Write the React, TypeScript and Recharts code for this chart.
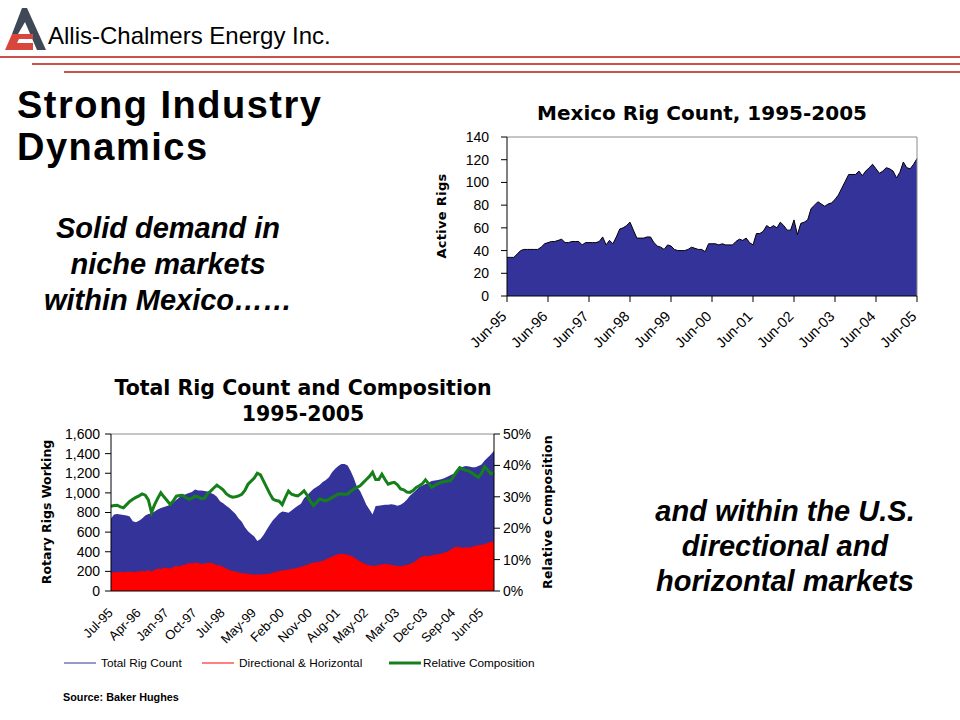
import React from 'react';
import {
  AreaChart,
  ComposedChart,
  Area,
  Line,
  XAxis,
  YAxis,
  ReferenceLine,
} from 'recharts';

const FONT = "'Liberation Sans', Arial, Helvetica, sans-serif";
const WIDE = "'DejaVu Sans', Verdana, sans-serif";

// Mexico active rigs, monthly Jun-95 .. Jun-05
const mexicoRigs = [
  34, 34, 34, 37, 40, 41, 41, 41, 41, 41, 43, 46,
  47, 48, 48, 49, 50, 47, 47, 48, 48, 48, 45, 47,
  47, 47, 47, 48, 52, 45, 49, 46, 52, 59, 60, 62,
  65, 58, 51, 51, 51, 52, 52, 47, 44, 43, 41, 45,
  44, 41, 40, 40, 40, 41, 43, 42, 41, 41, 39, 46,
  46, 46, 45, 46, 45, 45, 45, 48, 50, 49, 51, 47,
  45, 55, 55, 57, 62, 60, 62, 60, 65, 62, 58, 58,
  67, 54, 64, 65, 67, 77, 80, 83, 81, 79, 81, 82,
  85, 89, 95, 101, 107, 107, 107, 110, 106, 110, 113, 116,
  112, 108, 110, 113, 112, 110, 104, 109, 118, 113, 112, 116,
  121,
];
const mexicoTickPos = [0, 12, 24, 36, 48, 60, 72, 84, 96, 108, 120];
const mexicoTickLabels = ['Jun-95', 'Jun-96', 'Jun-97', 'Jun-98', 'Jun-99', 'Jun-00', 'Jun-01', 'Jun-02', 'Jun-03', 'Jun-04', 'Jun-05'];

// US rig counts, monthly from Jul-95
const totalRigs = [
  740, 780, 785, 780, 775, 770, 760, 712, 700, 715, 740, 770,
  785, 790, 810, 830, 845, 855, 865, 880, 905, 930, 955, 975,
  985, 1000, 1010, 1034, 1025, 1025, 1018, 1015, 1000, 985, 960, 915,
  895, 870, 845, 815, 785, 740, 705, 650, 610, 580, 555, 510,
  530, 570, 625, 675, 720, 755, 790, 810, 805, 797, 820, 845,
  870, 890, 945, 975, 1010, 1040, 1060, 1080, 1110, 1130, 1160, 1210,
  1245, 1275, 1295, 1295, 1280, 1220, 1150, 1060, 1020, 950, 880, 830,
  780, 865, 870, 875, 878, 880, 885, 880, 868, 880, 900, 930,
  970, 1000, 1030, 1060, 1075, 1090, 1105, 1120, 1125, 1130, 1138, 1150,
  1165, 1180, 1195, 1225, 1245, 1265, 1275, 1270, 1262, 1260, 1275, 1290,
  1330, 1360, 1390, 1430,
];
const dirHorizRigs = [
  185, 190, 190, 195, 190, 195, 200, 190, 195, 200, 205, 200,
  215, 200, 215, 230, 225, 240, 235, 230, 245, 255, 250, 265,
  270, 285, 280, 290, 285, 275, 280, 285, 290, 275, 265, 260,
  245, 230, 215, 205, 200, 190, 180, 178, 175, 170, 165, 168,
  168, 170, 172, 175, 185, 195, 205, 210, 215, 220, 225, 230,
  240, 245, 260, 265, 280, 290, 290, 300, 305, 320, 340, 350,
  365, 375, 380, 375, 370, 360, 345, 320, 300, 285, 270, 262,
  255, 260, 265, 270, 275, 272, 265, 260, 255, 250, 260, 265,
  275, 290, 305, 340, 350, 360, 355, 365, 370, 375, 380, 390,
  400, 420, 440, 450, 445, 440, 445, 440, 450, 460, 465, 470,
  480, 490, 500, 510,
];
const relComposition = [
  27.0, 27.2, 27.3, 26.8, 26.5, 27.5, 28.5, 29.2, 29.8, 30.3, 30.9, 30.5,
  29.0, 25.0, 27.5, 29.5, 31.3, 30.0, 28.8, 27.6, 28.7, 30.2, 30.4, 30.5,
  29.8, 29.2, 29.6, 30.2, 30.0, 29.4, 29.6, 31.0, 31.8, 32.8, 33.7, 33.0,
  32.2, 31.0, 30.3, 29.9, 30.0, 30.3, 30.8, 32.0, 34.0, 35.0, 36.0, 37.5,
  37.0, 35.0, 33.0, 31.0, 29.3, 28.8, 28.6, 27.5, 29.8, 31.8, 30.8, 30.5,
  30.3, 31.0, 31.9, 30.5, 28.5, 27.2, 28.2, 29.3, 29.0, 28.7, 29.2, 29.8,
  30.3, 30.9, 30.9, 30.8, 30.9, 31.8, 32.5, 33.0, 33.5, 34.5, 35.5, 36.5,
  37.8, 35.5, 35.5, 37.2, 35.5, 34.0, 34.4, 34.6, 33.8, 32.5, 32.2, 31.5,
  31.4, 32.0, 33.0, 33.5, 34.2, 35.4, 34.2, 33.0, 33.6, 34.2, 34.6, 34.8,
  35.0, 35.1, 36.5, 38.0, 39.3, 38.8, 38.4, 38.2, 37.5, 36.8, 36.2, 37.5,
  39.6, 38.5, 37.3, 37.8,
];
const usTickPos = [0, 9, 18, 27, 36, 46, 55, 64, 73, 82, 92, 101, 110, 119];
const usTickLabels = ['Jul-95', 'Apr-96', 'Jan-97', 'Oct-97', 'Jul-98', 'May-99', 'Feb-00', 'Nov-00', 'Aug-01', 'May-02', 'Mar-03', 'Dec-03', 'Sep-04', 'Jun-05'];

const mexicoData = mexicoRigs.map((v, i) => ({ m: i, rigs: v }));
const usData = totalRigs.map((v, i) => ({
  m: i,
  total: v,
  dir: dirHorizRigs[i],
  comp: relComposition[i],
}));

// rotated tick label, top-right corner of text sits near the tick
function AngledTick(props: any) {
  const { x, y, payload, labels, positions, fontSize, dx = 0, dy = 0 } = props;
  const idx = positions.indexOf(payload.value);
  return (
    <g transform={`translate(${x + dx},${y + dy})`}>
      <text x={0} y={0} dy="0.72em" textAnchor="end" fill="#000" fontSize={fontSize} fontFamily={FONT} transform="rotate(-45)">
        {idx >= 0 ? labels[idx] : ''}
      </text>
    </g>
  );
}

function RotatedLabel({ cx, cy, text, size, spacing = 0 }: any) {
  return (
    <div
      style={{
        position: 'absolute',
        left: cx,
        top: cy,
        transform: 'translate(-50%, -50%) rotate(-90deg)',
        whiteSpace: 'nowrap',
        fontFamily: WIDE,
        fontWeight: 'bold',
        fontSize: size,
        letterSpacing: spacing,
        lineHeight: 1,
      }}
    >
      {text}
    </div>
  );
}

function Logo() {
  return (
    <svg width={50} height={55} style={{ position: 'absolute', left: 0, top: 0 }}>
      <polygon points="22,8 27,8 46,50 37,50 25,22 18,34 12,34" fill="#3f4856" />
      <polygon points="12,34 33,34 33,39 19,39 17,43 33,43 33,50 5,50" fill="#d9463e" />
    </svg>
  );
}

function LegendItem({ x, color, thick, label }: any) {
  return (
    <div style={{ position: 'absolute', left: x, top: 655, height: 16, display: 'flex', alignItems: 'center', fontSize: 11.8, whiteSpace: 'nowrap' }}>
      <svg width={34} height={16}>
        <line x1={0} y1={8} x2={32} y2={8} stroke={color} strokeWidth={thick ? 3 : 1} />
      </svg>
      <span style={{ marginLeft: thick ? 0 : 3 }}>{label}</span>
    </div>
  );
}

export default function App() {
  const lineStyle = (left: number, top: number) => ({
    position: 'absolute' as const,
    left,
    top,
    width: 960 - left,
    height: 1.5,
    background: '#c9524c',
  });

  return (
    <div style={{ position: 'absolute', left: 0, top: 0, width: 960, height: 720, background: '#fff', fontFamily: FONT, color: '#000', overflow: 'hidden' }}>
      {/* header */}
      <Logo />
      <div style={{ position: 'absolute', left: 48, top: 24, fontSize: 24, lineHeight: '24px', whiteSpace: 'nowrap' }}>
        Allis-Chalmers Energy Inc.
      </div>
      <div style={lineStyle(0, 56)} />
      <div style={lineStyle(32, 63)} />
      <div style={lineStyle(64, 71)} />

      {/* slide text */}
      <div style={{ position: 'absolute', left: 17, top: 84, fontSize: 38, lineHeight: '42px', letterSpacing: 1.5, fontWeight: 'bold' }}>
        Strong Industry
        <br />
        Dynamics
      </div>
      <div style={{ position: 'absolute', left: 0, top: 210, width: 336, textAlign: 'center', fontSize: 29, lineHeight: '36px', fontWeight: 'bold', fontStyle: 'italic' }}>
        Solid demand in
        <br />
        niche markets
        <br />
        within Mexico……
      </div>
      <div style={{ position: 'absolute', left: 610, top: 494, width: 350, textAlign: 'center', fontSize: 29, lineHeight: '35px', fontWeight: 'bold', fontStyle: 'italic' }}>
        and within the U.S.
        <br />
        directional and
        <br />
        horizontal markets
      </div>

      {/* Mexico chart */}
      <div style={{ position: 'absolute', left: 502, top: 101, width: 400, textAlign: 'center', fontFamily: WIDE, fontSize: 20, lineHeight: '24px', fontWeight: 'bold', whiteSpace: 'nowrap' }}>
        Mexico Rig Count, 1995-2005
      </div>
      <RotatedLabel cx={441} cy={216} text="Active Rigs" size={13} spacing={0.3} />
      <div style={{ position: 'absolute', left: 420, top: 95 }}>
        <AreaChart width={520} height={280} data={mexicoData} margin={{ top: 42, right: 23, left: 0, bottom: 0 }}>
          <XAxis
            type="number"
            dataKey="m"
            domain={[0, 120]}
            ticks={mexicoTickPos}
            interval={0}
            height={79}
            stroke="#000"
            tickSize={6}
            tick={<AngledTick labels={mexicoTickLabels} positions={mexicoTickPos} fontSize={14.5} dx={-7} dy={6} />}
          />
          <YAxis
            domain={[0, 140]}
            ticks={[0, 20, 40, 60, 80, 100, 120, 140]}
            interval={0}
            width={87}
            stroke="#000"
            tickSize={6}
            tickMargin={12}
            tick={{ fill: '#000', fontSize: 14, fontFamily: FONT }}
          />
          <ReferenceLine y={140} stroke="#8c8c8c" />
          <ReferenceLine x={120} stroke="#8c8c8c" />
          <Area type="linear" dataKey="rigs" stroke="#000" strokeWidth={1} fill="#333399" fillOpacity={1} isAnimationActive={false} />
        </AreaChart>
      </div>

      {/* US chart */}
      <div style={{ position: 'absolute', left: 103, top: 375, width: 400, textAlign: 'center', fontFamily: WIDE, fontSize: 20.5, lineHeight: '26px', fontWeight: 'bold', whiteSpace: 'nowrap' }}>
        Total Rig Count and Composition
        <br />
        1995-2005
      </div>
      <RotatedLabel cx={47} cy={512} text="Rotary Rigs Working" size={12.5} />
      <RotatedLabel cx={548} cy={512} text="Relative Composition" size={12.5} spacing={0.2} />
      <div style={{ position: 'absolute', left: 20, top: 420 }}>
        <ComposedChart width={540} height={230} data={usData} margin={{ top: 14, right: 20, left: 0, bottom: 0 }}>
          <XAxis
            type="number"
            dataKey="m"
            domain={[0, 123]}
            ticks={usTickPos}
            interval={0}
            height={59}
            stroke="#000"
            tickLine={false}
            tick={<AngledTick labels={usTickLabels} positions={usTickPos} fontSize={13} dx={-4} dy={8} />}
          />
          <YAxis
            yAxisId="left"
            domain={[0, 1600]}
            ticks={[0, 200, 400, 600, 800, 1000, 1200, 1400, 1600]}
            interval={0}
            width={91}
            stroke="#000"
            tickSize={6}
            tickMargin={5}
            tickFormatter={(v: number) => v.toLocaleString('en-US')}
            tick={{ fill: '#000', fontSize: 14, fontFamily: FONT }}
          />
          <YAxis
            yAxisId="right"
            orientation="right"
            domain={[0, 50]}
            ticks={[0, 10, 20, 30, 40, 50]}
            interval={0}
            width={46}
            stroke="#000"
            tickSize={6}
            tickMargin={3}
            tickFormatter={(v: number) => `${v}%`}
            tick={{ fill: '#000', fontSize: 14, fontFamily: FONT }}
          />
          <ReferenceLine yAxisId="left" y={1600} stroke="#8c8c8c" />
          <Area yAxisId="left" type="linear" dataKey="total" stroke="none" fill="#333399" fillOpacity={1} isAnimationActive={false} />
          <Area yAxisId="left" type="linear" dataKey="dir" stroke="none" fill="#ff0000" fillOpacity={1} isAnimationActive={false} />
          <Line yAxisId="right" type="linear" dataKey="comp" stroke="#15801a" strokeWidth={3} dot={false} isAnimationActive={false} />
        </ComposedChart>
      </div>

      {/* legend */}
      <LegendItem x={64} color="#333399" label="Total Rig Count" />
      <LegendItem x={202} color="#ff0000" label="Directional & Horizontal" />
      <LegendItem x={389} color="#15801a" thick label="Relative Composition" />

      <div style={{ position: 'absolute', left: 63, top: 690, fontSize: 10.8, lineHeight: '14px', fontWeight: 'bold' }}>
        Source: Baker Hughes
      </div>
    </div>
  );
}
